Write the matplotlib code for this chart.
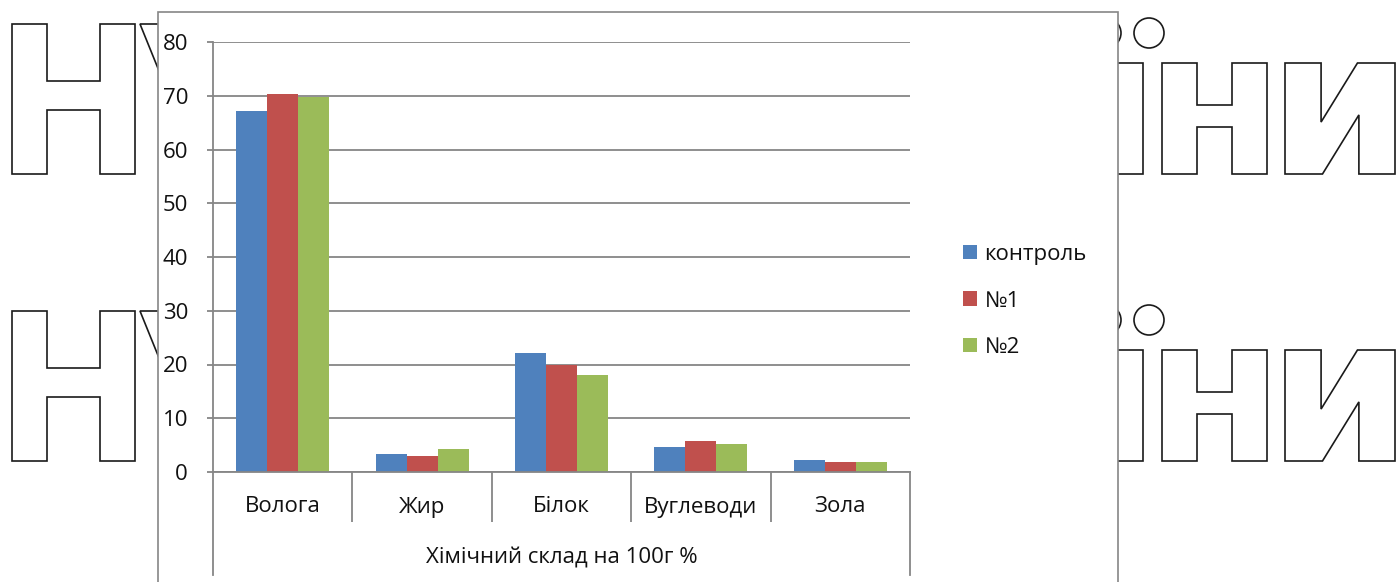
import numpy as np
import matplotlib.pyplot as plt
from matplotlib.textpath import TextPath
from matplotlib.patches import PathPatch, Rectangle, Patch, Circle
from matplotlib.font_manager import FontProperties
from matplotlib.transforms import Affine2D

plt.rcParams['font.family'] = ['Open Sans', 'DejaVu Sans']

# chemical composition per 100 g, %
categories = ['Волога', 'Жир', 'Білок', 'Вуглеводи', 'Зола']
series_names = ['контроль', '№1', '№2']
kontrol = [67.2, 3.4, 22.1, 4.7, 2.3]
sample1 = [70.3, 2.9, 19.9, 5.7, 1.9]
sample2 = [69.8, 4.3, 18.0, 5.2, 1.9]
y_ticks = list(range(0, 81, 10))
axis_title = 'Хімічний склад на 100г %'

colors = ['#4F81BD', '#C0504D', '#9BBB59']
grid_gray = '#868686'
text_color = '#111111'
fs = 16

W, H = 1400, 582
fig = plt.figure(figsize=(W / 100, H / 100), dpi=100)

# background layer in pixel coordinates (y down)
bg = fig.add_axes([0, 0, 1, 1])
bg.set_xlim(0, W)
bg.set_ylim(H, 0)
bg.axis('off')

# outlined watermark letters: (glyph, x0, x1, y0, y1) in pixels
wm_font = FontProperties(family='DejaVu Sans', weight='bold')
wm_style = dict(facecolor='white', edgecolor='#1a1a1a', lw=1.2, zorder=1)
for dy in (0, 287):
    letters = [
        ('Н', 12, 135, 24 + dy, 174 + dy),
        ('У', 140, 262, 24 + dy, 174 + dy),
        ('ı', 1112, 1143, 63 + dy, 174 + dy),
        ('н', 1162, 1267, 63 + dy, 174 + dy),
        ('и', 1285, 1395, 63 + dy, 174 + dy),
    ]
    for ch, x0, x1, y0, y1 in letters:
        tp = TextPath((0, 0), ch, size=100, prop=wm_font)
        ext = tp.get_extents()
        tr = (Affine2D().translate(-ext.x0, -ext.y0)
              .scale((x1 - x0) / ext.width, -(y1 - y0) / ext.height)
              .translate(x0, y1))
        bg.add_patch(PathPatch(tr.transform_path(tp), **wm_style))
    # two dots over the ї
    for cx in (1106, 1149):
        bg.add_patch(Circle((cx, 33 + dy), 15, **wm_style))

# chart area frame
bg.add_patch(Rectangle((158, 12), 960, 640, facecolor='white',
                       edgecolor=grid_gray, lw=1.2, zorder=2))

# outer lines of the category axis below the plot
for xp in (213, 910):
    bg.plot([xp, xp], [472, 575], color=grid_gray, lw=1.3, zorder=3)

# plot area
ax = fig.add_axes([213 / W, 1 - 472 / H, (910 - 213) / W, (472 - 42) / H])
x = np.arange(len(categories))
bw = 1 / 4.5
for k, (vals, name) in enumerate(zip([kontrol, sample1, sample2], series_names)):
    ax.bar(x + (k - 1) * bw, vals, width=bw, color=colors[k], label=name, zorder=2)

ax.set_xlim(-0.5, len(categories) - 0.5)
ax.set_ylim(0, 80)
ax.set_yticks(y_ticks)
ax.yaxis.grid(True, color=grid_gray, lw=1.3)
ax.set_axisbelow(True)
for side in ('top', 'right'):
    ax.spines[side].set_visible(False)
for side in ('left', 'bottom'):
    ax.spines[side].set_color(grid_gray)
    ax.spines[side].set_linewidth(1.3)

ax.tick_params(axis='y', direction='out', length=4.3, width=1.3, color=grid_gray,
               pad=13.7, labelsize=fs, labelcolor=text_color)
ax.set_xticks(x[:-1] + 0.5)
ax.set_xticklabels([])
ax.tick_params(axis='x', direction='out', length=36, width=1.3, color=grid_gray)

for i, cat in enumerate(categories):
    ax.annotate(cat, xy=(i, 0), xycoords=('data', 'axes fraction'),
                xytext=(0, -25.2), textcoords='offset points',
                ha='center', va='center', fontsize=fs, color=text_color)
ax.annotate(axis_title, xy=(0.5, 0), xycoords='axes fraction',
            xytext=(0, -62), textcoords='offset points',
            ha='center', va='center', fontsize=fs, color=text_color)

handles = [Patch(facecolor=c, edgecolor='none') for c in colors]
leg = fig.legend(handles, series_names, loc='center left',
                 bbox_to_anchor=(963 / W, 1 - 301 / H), frameon=False,
                 fontsize=fs, handlelength=0.62, handleheight=0.62,
                 handletextpad=0.35, labelspacing=1.15, borderpad=0,
                 borderaxespad=0)
for t in leg.get_texts():
    t.set_color(text_color)

fig.savefig('out.png', dpi=100)
